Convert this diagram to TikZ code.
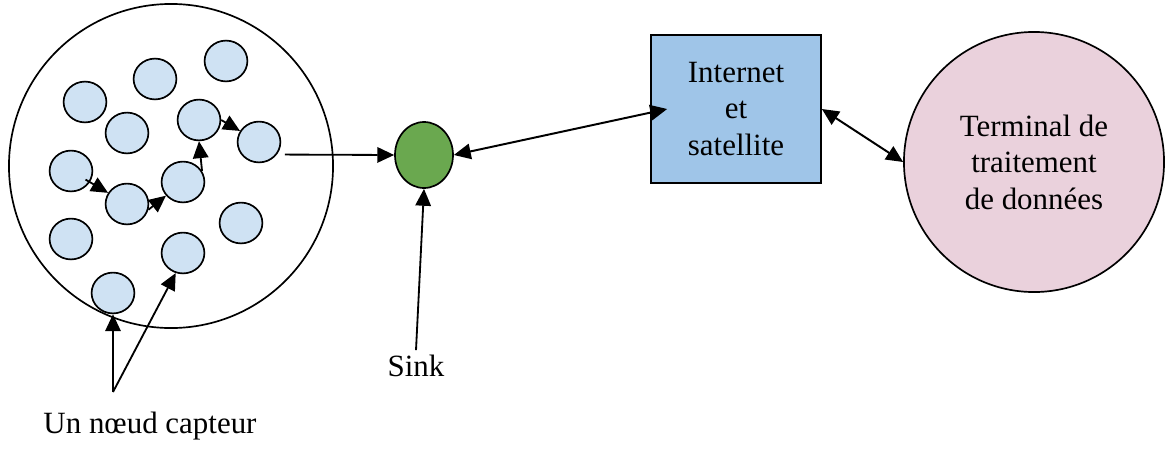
\documentclass[tikz,border=0pt]{standalone}
\usepackage{fontspec}
\setmainfont{Liberation Serif}
\usetikzlibrary{arrows.meta,positioning,calc,shapes.geometric}
\definecolor{NodeBlue}{HTML}{CFE2F3}
\definecolor{BoxBlue}{HTML}{9FC5E8}
\definecolor{SinkGreen}{HTML}{6AA84F}
\definecolor{TermPink}{HTML}{EAD1DC}
\tikzset{
 txt/.style={font=\fontsize{22}{26}\selectfont, align=center},
 capteur/.style={ellipse, draw, line width=1.2pt, fill=NodeBlue, minimum width=1.07cm, minimum height=1.02cm, inner sep=0pt},
 sinknode/.style={ellipse, draw, line width=1.2pt, fill=SinkGreen, minimum width=1.45cm, minimum height=1.65cm, inner sep=0pt},
 netbox/.style={txt, draw, line width=1.2pt, fill=BoxBlue, minimum width=4.25cm, minimum height=3.7cm},
 termnode/.style={txt, circle, draw, line width=1.2pt, fill=TermPink, minimum size=6.5cm, inner sep=0pt},
 arrow/.style={-{Triangle[length=12pt,width=11pt]}, line width=1.3pt},
 dblarrow/.style={{Triangle[length=12pt,width=11pt]}-{Triangle[length=12pt,width=11pt]}, line width=1.4pt}
}
\begin{document}
\begin{tikzpicture}[x=0.025cm,y=-0.025cm]
\useasboundingbox (0,0) rectangle (1170,448);
% champ de capteurs
\node[circle, draw, line width=1.2pt, minimum size=8.1cm] (field) at (171,166) {};
\node[capteur] (n1) at (226,61) {};
\node[capteur] (n2) at (155,79) {};
\node[capteur] (n3) at (85,102) {};
\node[capteur] (n4) at (127,133) {};
\node[capteur] (n5) at (199,120) {};
\node[capteur] (n6) at (259,142) {};
\node[capteur] (n7) at (71,171) {};
\node[capteur] (n8) at (127,204) {};
\node[capteur] (n9) at (183,182) {};
\node[capteur] (n10) at (71,239) {};
\node[capteur] (n11) at (241,223) {};
\node[capteur] (n12) at (183,253) {};
\node[capteur] (n13) at (113,293) {};
\draw[arrow, shorten <=12pt] (n7.center) -- (n8);
\draw[arrow] (n8.-15) -- (n9);
\draw[arrow] (n9.30) -- (n5.south);
\draw[arrow] (n5.east) -- (n6);
% sink, internet, terminal
\node[sinknode] (sink) at (424,155) {};
\node[netbox] (box) at (736,109) {Internet\\et\\satellite};
\node[termnode] (term) at (1034,162) {Terminal de\\traitement\\de données};
\draw[arrow] ($(n6.-35)+(8,0)$) -- (sink.west);
\draw[dblarrow] (sink.east) -- ([xshift=17*0.025cm]box.west);
\draw[dblarrow] (box.east) -- (term.west);
% legendes
\node[txt] (slabel) at (416,366) {Sink};
\node[txt] (cap) at (150,426) {Un nœud capteur};
\coordinate (apex) at (113,392);
\draw[arrow] (slabel.north) -- (sink.south);
\draw[arrow] (apex) -- (n13.south);
\draw[arrow] (apex) -- (n12.-110);
\end{tikzpicture}
\end{document}
